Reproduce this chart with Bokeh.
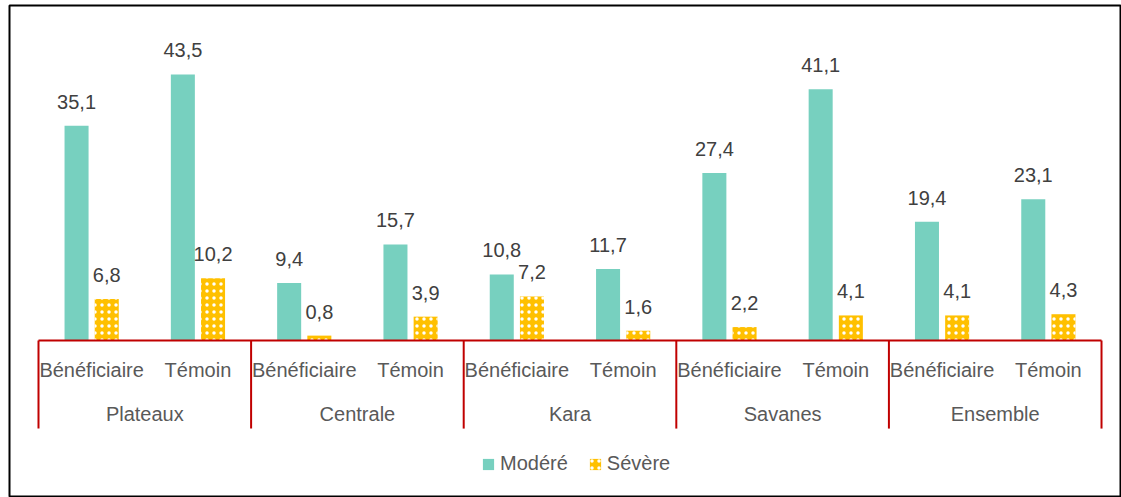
from bokeh.plotting import figure
from bokeh.models import ColumnDataSource, Range1d, Legend, LegendItem
from bokeh.core.properties import value
from bokeh.embed import file_html
from bokeh.resources import INLINE

# ---- data ----
groups = ["Plateaux", "Centrale", "Kara", "Savanes", "Ensemble"]
subs = ["Bénéficiaire", "Témoin"]
modere = [35.1, 43.5, 9.4, 15.7, 10.8, 11.7, 27.4, 41.1, 19.4, 23.1]
severe = [6.8, 10.2, 0.8, 3.9, 7.2, 1.6, 2.2, 4.1, 4.1, 4.3]
series_names = ["Modéré", "Sévère"]

# ---- styles ----
TEAL = "#77D0BF"
YELLOW = "#FFC000"
RED = "#C00000"
FONT_NAME = "Liberation Sans"
FONT = value(FONT_NAME)

n = len(modere)
cats = [(g, s) for g in groups for s in subs]
xc = [i + 0.5 for i in range(n)]
off = 0.142
bw = 0.226

src = ColumnDataSource(dict(
    x=xc,
    xm=[x - off for x in xc],
    xs=[x + off for x in xc],
    m=modere,
    s=severe,
    ml=[f"{v:.1f}".replace(".", ",") for v in modere],
    sl=[f"{v:.1f}".replace(".", ",") for v in severe],
    sub=[c[1] for c in cats],
))

p = figure(width=1121, height=497, output_backend="svg", toolbar_location=None,
           x_range=Range1d(-0.2728, n + 0.188), y_range=Range1d(-25.67, 54.78),
           x_axis_location=None, y_axis_location=None,
           min_border_left=9, min_border_top=5, min_border_right=0, min_border_bottom=0)
p.xgrid.visible = False
p.ygrid.visible = False
p.outline_line_color = "black"
p.outline_line_width = 2
p.background_fill_color = "white"
p.border_fill_color = "white"

r1 = p.vbar(x="xm", top="m", width=bw, source=src, fill_color=TEAL, line_color=None)
r2 = p.vbar(x="xs", top="s", width=bw, source=src, fill_color=YELLOW, line_color=None,
            hatch_pattern="dot", hatch_scale=7, hatch_weight=4, hatch_color="white")

# value labels
p.text(x="xm", y="m", text="ml", source=src, text_align="center", text_baseline="middle",
       y_offset=-24, text_font=FONT, text_font_size="20px", text_color="#404040")
p.text(x="xs", y="s", text="sl", source=src, text_align="center", text_baseline="middle",
       y_offset=-24, text_font=FONT, text_font_size="20px", text_color="#404040")

# category axis drawn as red lines
p.segment(x0=[0], y0=[0], x1=[n], y1=[0], line_color=RED, line_width=2)
bx = [2 * k for k in range(len(groups) + 1)]
p.segment(x0=bx, y0=[0] * len(bx), x1=bx, y1=[-14.4] * len(bx), line_color=RED, line_width=2)

p.text(x="x", y=-4.75, text="sub", source=src, text_align="center", text_baseline="middle",
       text_font=FONT, text_font_size="20px", text_color="#595959")
gsrc = ColumnDataSource(dict(x=[2 * k + 1 for k in range(len(groups))], g=groups))
p.text(x="x", y=-11.95, text="g", source=gsrc, text_align="center", text_baseline="middle",
       text_font=FONT, text_font_size="20px", text_color="#595959")

legend = Legend(items=[LegendItem(label=series_names[0], renderers=[r1]),
                       LegendItem(label=series_names[1], renderers=[r2])],
                location=(472, 22), orientation="horizontal",
                label_text_font=FONT_NAME, label_text_font_size="20px", label_text_color="#595959",
                glyph_width=14, glyph_height=14, label_standoff=5, spacing=20,
                padding=0, margin=0, border_line_alpha=0, background_fill_alpha=0)
p.add_layout(legend, "center")

open("out.html", "w").write(file_html(p, INLINE))
